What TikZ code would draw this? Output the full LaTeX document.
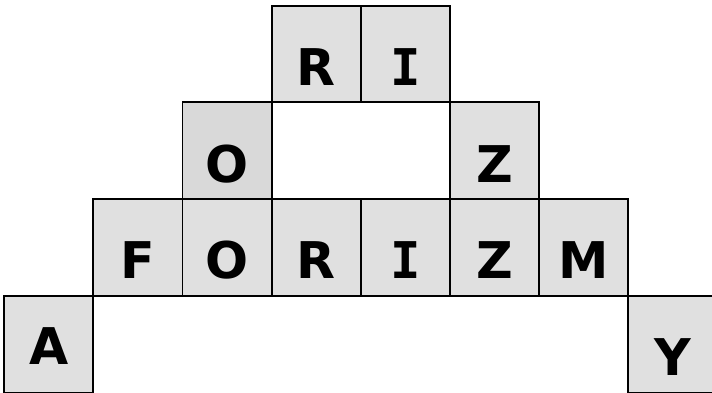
\documentclass[tikz,border=0pt]{standalone}
\usepackage{fontspec}
\setmainfont{DejaVu Sans}
\newfontfamily\barfont{DejaVu Sans Mono}
\usepackage{tikz}
\usetikzlibrary{positioning}
\definecolor{CellFill}{HTML}{E0E0E0}
\definecolor{CellDark}{HTML}{D9D9D9}

\begin{document}
\begin{tikzpicture}[
	node distance=0pt,
	cell/.style={
		draw=black,
		fill=CellFill,
		line width=1.3pt,
		outer sep=0pt,
		inner sep=0pt,
		minimum width=2.2275cm,
		minimum height=2.4175cm,
		text height=1.575cm,
		text depth=0pt,
		font=\fontsize{36}{40}\selectfont\bfseries
	}
	]
	
	\useasboundingbox (0,0) rectangle (17.8,-9.825);
	
	% ---------------------------------------------------------
	% MAIN ROW
	% ---------------------------------------------------------
	
	\node[cell] (f) at (3.449,-6.186) {F};
	
	\node[cell, right=of f] (o) {O};
	
	\node[cell, right=of o] (r) {R};
	
	\node[cell, right=of r] (i) {\barfont I};
	
	\node[cell, right=of i] (z) {Z};
	
	\node[cell, right=of z] (m) {M};
	
	% ---------------------------------------------------------
	% UPPER ROWS
	% ---------------------------------------------------------
	
	\node[cell, fill=CellDark, above=of o] (oup) {O};
	
	\node[cell, above=of z] (zup) {Z};
	
	\node[cell, above=2.4175cm of r] (rtop) {R};
	
	\node[cell, above=2.4175cm of i] (itop) {\barfont I};
	
	% ---------------------------------------------------------
	% LOWER CORNERS
	% ---------------------------------------------------------
	
	\node[cell, text height=1.025cm, below left=0pt and 0pt of f] (a) {A};
	
	\node[cell, below right=0pt and 0pt of m] (y) {Y};
	
\end{tikzpicture}
\end{document}
